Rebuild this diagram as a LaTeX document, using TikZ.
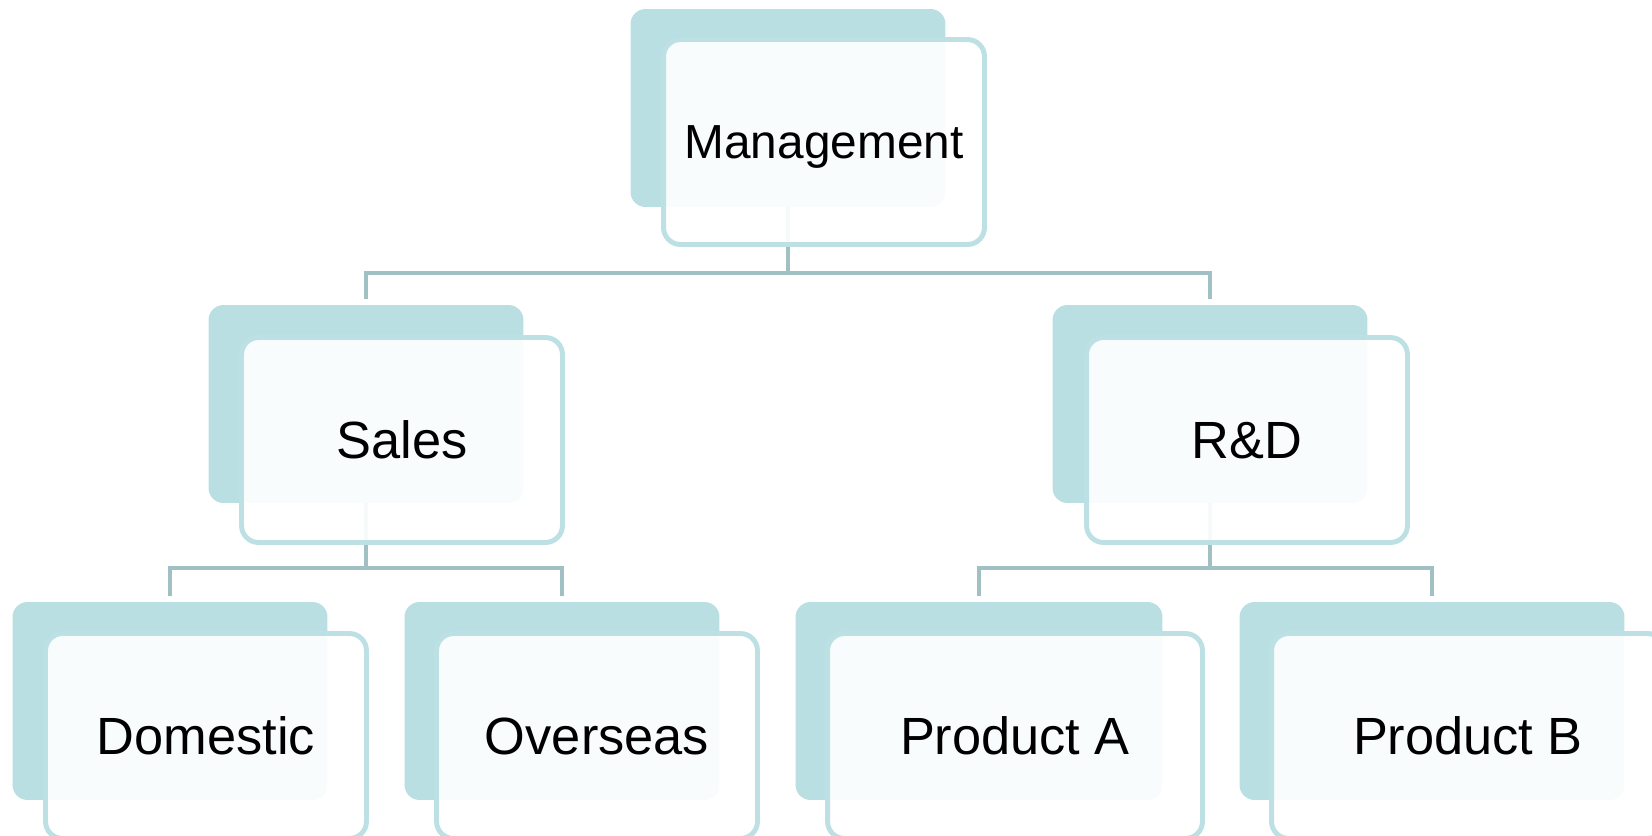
\documentclass[tikz,border=0pt]{standalone}
\usepackage{fontspec}
\setmainfont{Liberation Sans}
\usetikzlibrary{positioning}

\definecolor{cardback}{HTML}{BADFE2}
\definecolor{cardline}{HTML}{BCE0E4}
\definecolor{linkgray}{HTML}{A0C0C4}

\begin{document}
\begin{tikzpicture}[x=0.02cm, y=-0.02cm,
    % Styles
    backcard/.style={fill=cardback, draw=none, rounded corners=0.3cm, minimum width=6.3cm, minimum height=3.96cm, inner sep=0pt},
    frontcard/.style={fill=white, fill opacity=0.92, text opacity=1, draw=cardline, line width=2.8pt, rounded corners=0.34cm, minimum width=6.42cm, minimum height=4.1cm, inner sep=0pt, text depth=0pt, font=\fontsize{29.8}{34}\selectfont},
    linkline/.style={draw=linkgray, line width=2.4pt},
]

% Page frame
\useasboundingbox (0,0) rectangle (1652,835);

% Back cards
\node[backcard] (mgmt-back) at (788, 108) {};
\node[backcard] (sales-back) at (366, 404) {};
\node[backcard] (rd-back) at (1210, 404) {};
\node[backcard] (dom-back) at (170, 701) {};
\node[backcard] (over-back) at (562, 701) {};
\node[backcard, minimum width=7.34cm] (proda-back) at (979, 701) {};
\node[backcard, minimum width=7.7cm] (prodb-back) at (1432, 701) {};

% Links: level 1
\draw[linkline, shorten >=0.12cm] (mgmt-back.south) -- ++(0,66) -| (sales-back.north);
\draw[linkline, shorten >=0.12cm] (mgmt-back.south) -- ++(0,66) -| (rd-back.north);

% Links: level 2
\draw[linkline, shorten >=0.12cm] (sales-back.south) -- ++(0,65) -| (dom-back.north);
\draw[linkline, shorten >=0.12cm] (sales-back.south) -- ++(0,65) -| (over-back.north);
\draw[linkline, shorten >=0.12cm] (rd-back.south) -- ++(0,65) -| (proda-back.north);
\draw[linkline, shorten >=0.12cm] (rd-back.south) -- ++(0,65) -| (prodb-back.north);

% Front cards with the texts
\node[frontcard, font=\fontsize{27.2}{32}\selectfont] (mgmt) at (824, 142) {Management};
\node[frontcard] (sales) at (402, 440) {Sales};
\node[frontcard] (rd) at (1247, 440) {R\&D};
\node[frontcard] (dom) at (206, 736) {Domestic};
\node[frontcard] (over) at (597, 736) {Overseas};
\node[frontcard, minimum width=7.5cm] (proda) at (1015, 736) {Product A};
\node[frontcard, minimum width=7.86cm] (prodb) at (1468, 736) {Product B};

\end{tikzpicture}
\end{document}
